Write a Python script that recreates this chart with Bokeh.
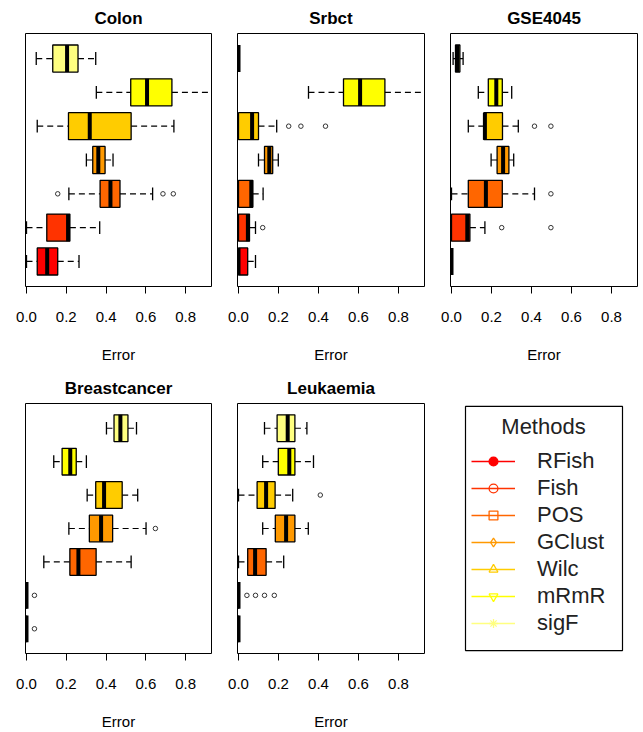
from bokeh.plotting import figure
from bokeh.layouts import row, column
from bokeh.models import (FixedTicker, Legend, LegendItem, BoxAnnotation, Label,
                          Range1d, ColumnDataSource, PrintfTickFormatter)
from bokeh.transform import dodge
from bokeh.embed import file_html
from bokeh.resources import INLINE

FONT = "Liberation Sans"

methods = ["RFish", "Fish", "POS", "GClust", "Wilc", "mRmR", "sigF"]
colors = ["#FF0000", "#FF3300", "#FF6600", "#FF9900", "#FFCC00", "#FFFF00", "#FFFF80"]
legend_markers = ["circle", "circle", "square", "diamond", "triangle", "inverted_triangle", "asterisk"]
legend_filled = [True, False, False, False, False, False, True]
legend_sizes = [8, 8, 8, 11, 12, 12, 7]
x_ticks = [0.0, 0.2, 0.4, 0.6, 0.8]

# box statistics per method (RFish .. sigF): [whisker low, Q1, median, Q3, whisker high]
colon = [[0.000, 0.054, 0.104, 0.157, 0.264],
         [0.000, 0.102, 0.209, 0.218, 0.368],
         [0.213, 0.370, 0.422, 0.470, 0.634],
         [0.301, 0.333, 0.361, 0.395, 0.435],
         [0.054, 0.211, 0.318, 0.526, 0.741],
         [0.351, 0.524, 0.606, 0.731, 0.970],
         [0.049, 0.132, 0.204, 0.259, 0.348]]
colon_out = [(2, 0.157), (2, 0.686), (2, 0.738)]

srbct = [[0.000, 0.000, 0.000, 0.046, 0.085],
         [0.000, 0.000, 0.047, 0.055, 0.085],
         [0.000, 0.000, 0.064, 0.071, 0.123],
         [0.100, 0.130, 0.154, 0.171, 0.199],
         [0.000, 0.000, 0.068, 0.100, 0.191],
         [0.350, 0.525, 0.608, 0.732, 0.970],
         [0.000, 0.000, 0.000, 0.000, 0.000]]
srbct_out = [(1, 0.121), (4, 0.251), (4, 0.312), (4, 0.435)]

gse4045 = [[0.000, 0.000, 0.000, 0.000, 0.000],
           [0.000, 0.000, 0.079, 0.092, 0.167],
           [0.000, 0.084, 0.172, 0.254, 0.415],
           [0.198, 0.228, 0.258, 0.287, 0.311],
           [0.084, 0.162, 0.167, 0.255, 0.334],
           [0.134, 0.184, 0.224, 0.254, 0.301],
           [0.008, 0.020, 0.030, 0.042, 0.058]]
gse4045_out = [(1, 0.251), (1, 0.497), (2, 0.497), (4, 0.415), (4, 0.497)]

breast = [[0.000, 0.000, 0.000, 0.000, 0.000],
          [0.000, 0.000, 0.000, 0.000, 0.000],
          [0.087, 0.218, 0.261, 0.350, 0.526],
          [0.213, 0.316, 0.375, 0.433, 0.601],
          [0.305, 0.348, 0.390, 0.481, 0.559],
          [0.137, 0.179, 0.220, 0.250, 0.301],
          [0.402, 0.440, 0.472, 0.510, 0.553]]
breast_out = [(0, 0.040), (1, 0.040), (3, 0.648)]

leuk = [[0.000, 0.000, 0.000, 0.000, 0.000],
        [0.000, 0.000, 0.000, 0.000, 0.000],
        [0.000, 0.046, 0.083, 0.138, 0.226],
        [0.121, 0.184, 0.238, 0.282, 0.349],
        [0.000, 0.093, 0.138, 0.183, 0.271],
        [0.121, 0.199, 0.254, 0.282, 0.375],
        [0.130, 0.193, 0.246, 0.282, 0.342]]
leuk_out = [(1, 0.042), (1, 0.085), (1, 0.130), (1, 0.179), (4, 0.409)]


def make_panel(title, stats, outliers, width, height, left, right, bottom):
    p = figure(width=width, height=height, title=title,
               x_range=Range1d(-0.005, 0.93), y_range=Range1d(0.26, 7.74),
               toolbar_location=None, output_backend="svg",
               y_axis_location=None,
               min_border_left=left, min_border_right=right,
               min_border_top=32, min_border_bottom=bottom)
    p.grid.visible = False
    p.outline_line_color = "black"
    p.outline_line_width = 1
    p.outline_line_alpha = 1
    p.background_fill_color = "white"

    p.title.align = "center"
    p.title.text_font = FONT
    p.title.text_font_size = "17px"
    p.title.text_font_style = "bold"
    p.title.text_color = "black"
    p.title.standoff = 12

    ax = p.xaxis[0]
    ax.ticker = FixedTicker(ticks=x_ticks)
    ax.formatter = PrintfTickFormatter(format="%.1f")
    ax.major_tick_out = 7
    ax.major_tick_in = 0
    ax.major_tick_line_color = "black"
    ax.minor_tick_line_color = None
    ax.axis_line_color = None
    ax.major_label_text_font = FONT
    ax.major_label_text_font_size = "15px"
    ax.major_label_text_color = "black"
    ax.major_label_standoff = 18
    ax.axis_label = "Error"
    ax.axis_label_text_font = FONT
    ax.axis_label_text_font_size = "15px"
    ax.axis_label_text_font_style = "normal"
    ax.axis_label_text_color = "black"
    ax.axis_label_standoff = 21

    src = ColumnDataSource(dict(
        y=[i + 1 for i in range(len(methods))],
        lo=[s[0] for s in stats], q1=[s[1] for s in stats], med=[s[2] for s in stats],
        q3=[s[3] for s in stats], hi=[s[4] for s in stats], color=colors))

    # whiskers (dashed)
    p.segment(x0="lo", y0="y", x1="q1", y1="y", source=src,
              line_color="black", line_width=1.2, line_dash="6 4")
    p.segment(x0="q3", y0="y", x1="hi", y1="y", source=src,
              line_color="black", line_width=1.2, line_dash="6 4")
    # staples
    for f in ("lo", "hi"):
        p.segment(x0=f, y0=dodge("y", -0.19), x1=f, y1=dodge("y", 0.19), source=src,
                  line_color="black", line_width=1.3)
    # boxes
    p.hbar(y="y", left="q1", right="q3", height=0.8, source=src,
           fill_color="color", line_color="black", line_width=1.3)
    # medians
    p.segment(x0="med", y0=dodge("y", -0.4), x1="med", y1=dodge("y", 0.4), source=src,
              line_color="black", line_width=4)
    # outliers
    if outliers:
        p.scatter(x=[o[1] for o in outliers], y=[o[0] + 1 for o in outliers],
                  marker="circle", size=4.5, fill_color=None,
                  line_color="#333333", line_width=1)
    return p


p1 = make_panel("Colon", colon, colon_out, 213, 370, 25, 2, 84)
p2 = make_panel("Srbct", srbct, srbct_out, 213, 370, 24, 2, 84)
p3 = make_panel("GSE4045", gse4045, gse4045_out, 217, 370, 24, 6, 84)
p4 = make_panel("Breastcancer", breast, breast_out, 213, 362, 25, 2, 76)
p5 = make_panel("Leukaemia", leuk, leuk_out, 213, 362, 24, 2, 76)

# legend panel: its frame is aligned with the neighbouring panels (254 px tall)
p6 = figure(width=217, height=362, x_range=Range1d(0, 217), y_range=Range1d(0, 254),
            toolbar_location=None, output_backend="svg",
            x_axis_location=None, y_axis_location=None,
            min_border_left=0, min_border_right=0,
            min_border_top=32, min_border_bottom=76)
p6.grid.visible = False
p6.outline_line_color = None
p6.add_layout(BoxAnnotation(left=39, right=196, bottom=3, top=251,
                            fill_color=None, fill_alpha=0,
                            line_color="black", line_alpha=1, line_width=1.2))
p6.add_layout(Label(x=117, y=231, text="Methods", text_align="center",
                    text_baseline="middle", text_font=FONT,
                    text_font_size="22px", text_color="#222222"))
nan = float("nan")
items = []
for i, m in enumerate(methods):
    r_line = p6.line(x=[nan, nan], y=[nan, nan], line_color=colors[i], line_width=1.5)
    r_mark = p6.scatter(x=[nan], y=[nan], marker=legend_markers[i], size=legend_sizes[i],
                        line_color=colors[i], line_width=1.3,
                        fill_color=colors[i] if legend_filled[i] else None)
    items.append(LegendItem(label=m, renderers=[r_line, r_mark]))
legend = Legend(items=items, location=(45, 17), padding=0, margin=0,
                border_line_color=None, background_fill_alpha=0,
                glyph_width=44, glyph_height=22, label_height=20,
                label_standoff=22, spacing=1,
                label_text_font=FONT, label_text_font_size="22px",
                label_text_color="#222222")
p6.add_layout(legend)

layout = column(row(p1, p2, p3, spacing=0), row(p4, p5, p6, spacing=0), spacing=0)

with open("out.html", "w") as f:
    f.write(file_html(layout, INLINE))
